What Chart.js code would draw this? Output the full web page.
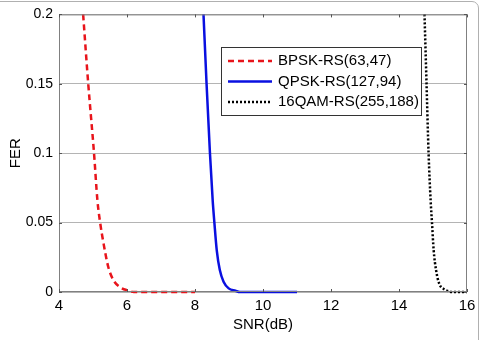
<!DOCTYPE html>
<html>
<head>
<meta charset="utf-8">
<script src="https://cdn.jsdelivr.net/npm/chart.js@4/dist/chart.umd.min.js"></script>
<style>
  html, body { margin: 0; padding: 0; background: #fff; overflow: hidden; }
  #wrap { position: relative; width: 482px; height: 340px; }
  #frame { position: absolute; left: -10px; top: 1px; width: 487px; height: 400px;
           border: 1px solid #b0b0b0; border-radius: 7px; pointer-events: none; }
  canvas { position: absolute; left: 0; top: 0; }
</style>
</head>
<body>
<div id="wrap">
  <canvas id="chart" width="482" height="340"></canvas>
  <div id="frame"></div>
</div>
<script>
const xTicks = [4, 6, 8, 10, 12, 14, 16];
const yTicks = [0, 0.05, 0.1, 0.15, 0.2];

const seriesNames = ['BPSK-RS(63,47)', 'QPSK-RS(127,94)', '16QAM-RS(255,188)'];

const bpskSnr = [4.71, 4.86, 5.03, 5.13, 5.21, 5.31, 5.45, 5.60, 5.80, 6.04, 6.2, 8.0];
const bpskFer = [0.2, 0.15, 0.1, 0.066, 0.05, 0.035, 0.018, 0.0086, 0.0034, 0.001, 0, 0];

const qpskSnr = [8.25, 8.34, 8.44, 8.52, 8.57, 8.64, 8.73, 8.84, 8.99, 9.19, 9.32, 11.0];
const qpskFer = [0.2, 0.15, 0.1, 0.066, 0.05, 0.03, 0.0158, 0.0074, 0.0026, 0.0009, 0, 0];

const qamSnr = [14.75, 14.81, 14.87, 14.93, 14.97, 15.02, 15.09, 15.18, 15.33, 15.43, 15.55, 16.0];
const qamFer = [0.2, 0.15, 0.1, 0.066, 0.05, 0.03, 0.0158, 0.0062, 0.0019, 0.0008, 0, 0];

const fontFamily = '"Liberation Sans", Arial, sans-serif';

function toPoints(xs, ys) {
    return xs.map((x, i) => ({ x: x, y: ys[i] }));
}

// plot box border + inward tick marks
const boxPlugin = {
    id: 'box',
    afterDatasetsDraw(chart) {
        const { ctx, chartArea: a, scales } = chart;
        ctx.save();
        ctx.strokeStyle = '#808080';
        ctx.lineWidth = 1;
        ctx.strokeRect(a.left + 0.5, a.top + 0.5, a.right - a.left - 1, a.bottom - a.top - 1);
        ctx.strokeStyle = '#555';
        ctx.beginPath();
        xTicks.forEach(v => {
            const px = Math.round(scales.x.getPixelForValue(v)) + 0.5;
            ctx.moveTo(px, a.bottom); ctx.lineTo(px, a.bottom - 3);
            ctx.moveTo(px, a.top); ctx.lineTo(px, a.top + 3);
        });
        yTicks.forEach(v => {
            const py = Math.round(scales.y.getPixelForValue(v)) + 0.5;
            ctx.moveTo(a.left, py); ctx.lineTo(a.left + 3, py);
            ctx.moveTo(a.right, py); ctx.lineTo(a.right - 3, py);
        });
        ctx.stroke();
        ctx.restore();
    }
};

// legend box inside the plot, like the original
const legendPlugin = {
    id: 'innerLegend',
    afterDraw(chart) {
        const ctx = chart.ctx;
        const x0 = 221, y0 = 47, w = 200, h = 68;
        ctx.save();
        ctx.fillStyle = '#fff';
        ctx.fillRect(x0, y0, w, h);
        ctx.strokeStyle = '#333';
        ctx.lineWidth = 1;
        ctx.strokeRect(x0 + 0.5, y0 + 0.5, w, h);
        ctx.font = '15px ' + fontFamily;
        ctx.textBaseline = 'middle';
        chart.data.datasets.forEach((ds, i) => {
            const y = y0 + 14 + i * 20.5;
            ctx.strokeStyle = ds.borderColor;
            ctx.lineWidth = ds.borderWidth;
            ctx.setLineDash(ds.borderDash || []);
            ctx.beginPath();
            ctx.moveTo(x0 + 7, y); ctx.lineTo(x0 + 51, y);
            ctx.stroke();
            ctx.setLineDash([]);
            ctx.fillStyle = '#000';
            ctx.fillText(ds.label, x0 + 57, y);
        });
        ctx.restore();
    }
};

new Chart(document.getElementById('chart'), {
    type: 'line',
    data: {
        datasets: [{
            label: seriesNames[0],
            data: toPoints(bpskSnr, bpskFer),
            borderColor: '#e8141b',
            borderWidth: 2.5,
            borderDash: [6, 4],
            pointRadius: 0,
            cubicInterpolationMode: 'monotone'
        }, {
            label: seriesNames[1],
            data: toPoints(qpskSnr, qpskFer),
            borderColor: '#0a10e0',
            borderWidth: 2.5,
            pointRadius: 0,
            cubicInterpolationMode: 'monotone'
        }, {
            label: seriesNames[2],
            data: toPoints(qamSnr, qamFer),
            borderColor: '#000',
            borderWidth: 2.5,
            borderDash: [2, 2],
            pointRadius: 0,
            cubicInterpolationMode: 'monotone'
        }]
    },
    options: {
        responsive: false,
        animation: false,
        clip: false,
        layout: { padding: { left: 0, top: 13, right: 15, bottom: 6 } },
        plugins: { legend: { display: false }, tooltip: { enabled: false } },
        scales: {
            x: {
                type: 'linear',
                min: 4, max: 16,
                afterBuildTicks: s => { s.ticks = xTicks.map(v => ({ value: v })); },
                afterFit: s => { s.height = 42; },
                grid: { display: false, drawTicks: false },
                border: { display: false },
                ticks: { padding: 5, color: '#000', font: { size: 15, family: fontFamily } },
                title: { display: true, text: 'SNR(dB)', color: '#000', padding: { top: 0, bottom: 0 },
                         font: { size: 15, family: fontFamily } }
            },
            y: {
                min: 0, max: 0.2,
                afterBuildTicks: s => { s.ticks = yTicks.map(v => ({ value: v })); },
                afterFit: s => { s.width = 59; },
                grid: { color: '#b4b4b4', drawTicks: false },
                border: { display: false },
                ticks: { padding: 6, color: '#000', callback: v => String(v),
                         font: { size: 14, family: fontFamily } },
                title: { display: true, text: 'FER', color: '#000', padding: { top: 7, bottom: 0 },
                         font: { size: 15, family: fontFamily } }
            }
        }
    },
    plugins: [boxPlugin, legendPlugin]
});
</script>
</body>
</html>
